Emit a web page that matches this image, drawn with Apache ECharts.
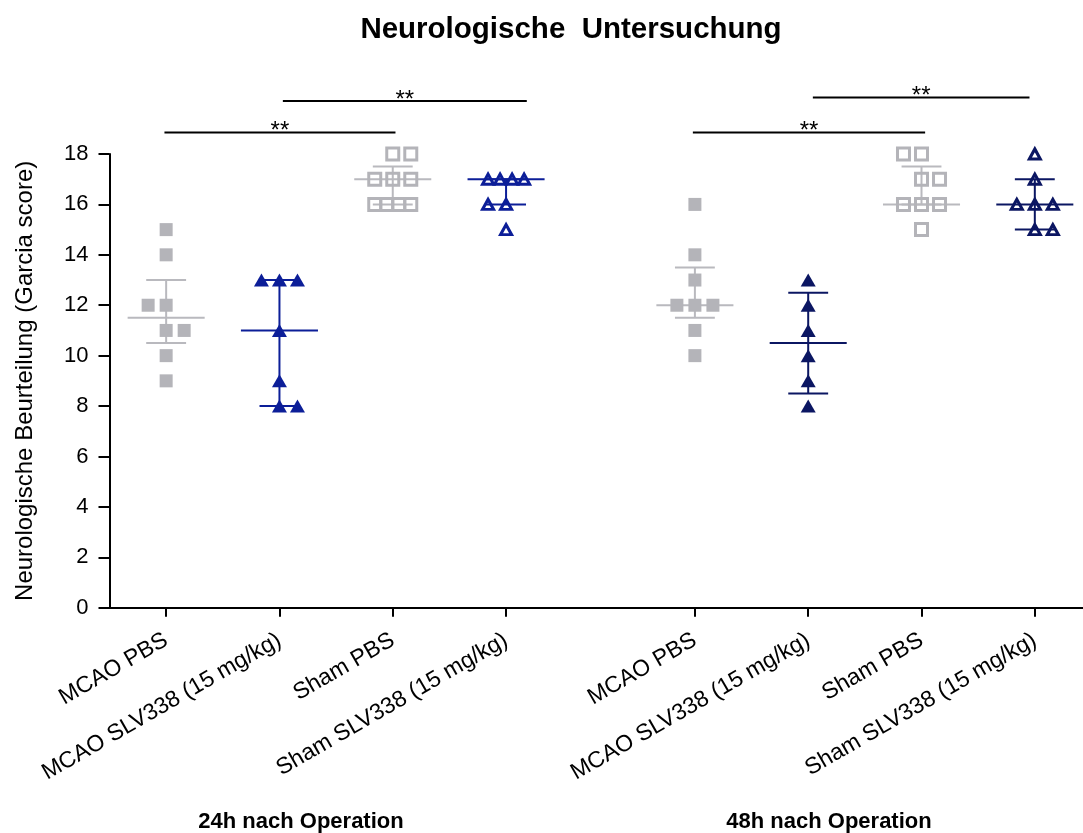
<!DOCTYPE html>
<html>
<head>
<meta charset="utf-8">
<script src="https://cdn.jsdelivr.net/npm/echarts@6/dist/echarts.min.js"></script>
<style>
html,body{margin:0;padding:0;background:#fff;}
#chart{width:1083px;height:833px;}
</style>
</head>
<body>
<div id="chart"></div>
<script>
// ---------- data ----------
const categories = ['MCAO PBS', 'MCAO SLV338 (15 mg/kg)', 'Sham PBS', 'Sham SLV338 (15 mg/kg)',
                    'MCAO PBS', 'MCAO SLV338 (15 mg/kg)', 'Sham PBS', 'Sham SLV338 (15 mg/kg)'];
const timeLabels = ['24h nach Operation', '48h nach Operation'];
const yTicks = [0, 2, 4, 6, 8, 10, 12, 14, 16, 18];

const h24_mcaoPBS = [15, 14, 12, 12, 11, 11, 10, 9];
const h24_mcaoSLV = [13, 13, 13, 11, 9, 8, 8];
const h24_shamPBS = [18, 18, 17, 17, 17, 16, 16, 16, 16];
const h24_shamSLV = [17, 17, 17, 17, 16, 16, 15];
const h48_mcaoPBS = [16, 14, 13, 12, 12, 12, 11, 10];
const h48_mcaoSLV = [13, 12, 11, 10, 9, 8];
const h48_shamPBS = [18, 18, 17, 17, 16, 16, 16, 15];
const h48_shamSLV = [18, 17, 16, 16, 16, 15, 15];

const medians = [11.5, 11, 17, 17, 12, 10.5, 16, 16];
const lowerQ  = [10.5, 8, 16, 16, 11.5, 8.5, 16, 15];
const upperQ  = [13, 13, 17.5, 17, 13.5, 12.5, 17.5, 17];

const sigLabels = ['**', '**', '**', '**'];

// ---------- layout / style (not data) ----------
const groupsValues = [h24_mcaoPBS, h24_mcaoSLV, h24_shamPBS, h24_shamSLV,
                      h48_mcaoPBS, h48_mcaoSLV, h48_shamPBS, h48_shamSLV];
const posOf = i => i + (i >= 4 ? 2 / 3 : 0);
const JIT = 0.159;
const leftPairs = {0: [12], 3: [16], 6: [18]};

const GREY = '#b4b4b9', GREYL = '#b9b9be', BLUE24 = '#0c1e98', BLUE48 = '#0b1662';
const styles = [
  {symbol: 'rect', size: 13, fill: GREY, stroke: null, line: GREYL},
  {symbol: 'triangle', size: [15, 13], fill: BLUE24, stroke: null, line: BLUE24},
  {symbol: 'rect', size: 12, fill: 'rgba(0,0,0,0)', stroke: GREY, line: GREYL},
  {symbol: 'triangle', size: [11, 10], fill: 'rgba(0,0,0,0)', stroke: BLUE24, line: BLUE24},
  {symbol: 'rect', size: 13, fill: GREY, stroke: null, line: GREYL},
  {symbol: 'triangle', size: [15, 13], fill: BLUE48, stroke: null, line: BLUE48},
  {symbol: 'rect', size: 12, fill: 'rgba(0,0,0,0)', stroke: GREY, line: GREYL},
  {symbol: 'triangle', size: [11, 10], fill: 'rgba(0,0,0,0)', stroke: BLUE48, line: BLUE48}
];

// brackets: [fromX, toX, yLevel] in axis units (annotation placement)
const brackets = [
  [posOf(0) - 0.015, posOf(2) + 0.024, 18.85],
  [posOf(1) + 0.03, posOf(3) + 0.183, 20.1],
  [posOf(4) - 0.018, posOf(6) + 0.032, 18.85],
  [posOf(5) + 0.041, posOf(7) - 0.047, 20.24]
];

function jitter(vals, gi) {
  const counts = {}, seen = {};
  vals.forEach(v => counts[v] = (counts[v] || 0) + 1);
  return vals.map(v => {
    const n = counts[v], k = seen[v] = (seen[v] === undefined ? 0 : seen[v] + 1);
    let offs;
    if (n === 1) offs = [0];
    else if (n === 2) offs = (leftPairs[gi] || []).includes(v) ? [-1, 0] : [0, 1];
    else if (n === 3) offs = [-1, 0, 1];
    else offs = Array.from({length: n}, (_, j) => -1 + 2 * j / (n - 1));
    return [posOf(gi) + offs[k] * JIT, v];
  });
}

const FONT = "'Liberation Sans', Arial, sans-serif";
const series = [];

groupsValues.forEach((vals, gi) => {
  const st = styles[gi];
  series.push({
    type: 'custom',
    z: 2,
    clip: false,
    data: [[posOf(gi), medians[gi], lowerQ[gi], upperQ[gi]]],
    encode: {x: 0, y: [1, 2, 3]},
    renderItem: function (params, api) {
      const x = api.value(0), m = api.value(1), lo = api.value(2), hi = api.value(3);
      const st2 = {stroke: st.line, lineWidth: 2};
      const seg = (a, b) => ({type: 'line', shape: {x1: a[0], y1: a[1], x2: b[0], y2: b[1]}, style: st2});
      return {type: 'group', children: [
        seg(api.coord([x - 0.34, m]), api.coord([x + 0.34, m])),
        seg(api.coord([x, lo]), api.coord([x, hi])),
        seg(api.coord([x - 0.176, lo]), api.coord([x + 0.176, lo])),
        seg(api.coord([x - 0.176, hi]), api.coord([x + 0.176, hi]))
      ]};
    }
  });
  series.push({
    type: 'scatter',
    z: 3,
    symbol: st.symbol,
    symbolSize: st.size,
    itemStyle: st.stroke
      ? {color: st.fill, borderColor: st.stroke, borderWidth: 3, opacity: 1}
      : {color: st.fill, opacity: 1},
    data: jitter(vals, gi)
  });
});

series.push({
  type: 'custom',
  z: 4,
  clip: false,
  data: brackets.map((b, i) => [b[0], b[1], b[2], i]),
  encode: {x: [0, 1], y: 2},
  renderItem: function (params, api) {
    const x1 = api.value(0), x2 = api.value(1), y = api.value(2), i = api.value(3);
    const p1 = api.coord([x1, y]), p2 = api.coord([x2, y]);
    return {type: 'group', children: [
      {type: 'line', shape: {x1: p1[0], y1: p1[1], x2: p2[0], y2: p2[1]}, style: {stroke: '#000', lineWidth: 2}},
      {type: 'text', style: {text: sigLabels[i], x: (p1[0] + p2[0]) / 2, y: p1[1] - 1,
        align: 'center', verticalAlign: 'middle', font: '24px ' + FONT, fill: '#000'}}
    ]};
  }
});

const tickVals = categories.map((c, i) => posOf(i));
const chart = echarts.init(document.getElementById('chart'));
chart.setOption({
  animation: false,
  backgroundColor: '#fff',
  title: {
    text: 'Neurologische  Untersuchung',
    left: 566, top: 10, textAlign: 'center',
    textStyle: {fontFamily: FONT, fontWeight: 'bold', fontSize: 29.5, color: '#000'}
  },
  grid: {left: 109.5, right: 0, top: 154, bottom: 225.3, containLabel: false},
  xAxis: {
    type: 'value',
    min: -0.5, max: 8.092,
    splitLine: {show: false},
    axisLine: {onZero: false, lineStyle: {color: '#000', width: 2}},
    axisTick: {show: true, length: 9, lineStyle: {color: '#000', width: 2}, customValues: tickVals},
    axisLabel: {
      customValues: tickVals,
      rotate: 30, margin: 31,
      fontFamily: FONT, fontSize: 23, color: '#000',
      formatter: v => {
        const i = tickVals.findIndex(t => Math.abs(t - v) < 1e-6);
        return i >= 0 ? categories[i] : '';
      }
    }
  },
  yAxis: {
    type: 'value',
    min: yTicks[0], max: yTicks[yTicks.length - 1], interval: 2,
    name: 'Neurologische Beurteilung (Garcia score)',
    nameLocation: 'middle', nameGap: 72, nameRotate: 90,
    nameTextStyle: {fontFamily: FONT, fontSize: 24, color: '#000'},
    splitLine: {show: false},
    axisLine: {show: true, onZero: false, lineStyle: {color: '#000', width: 2}},
    axisTick: {show: true, length: 11, lineStyle: {color: '#000', width: 2}},
    axisLabel: {margin: 21, fontFamily: FONT, fontSize: 22, color: '#000'}
  },
  graphic: [
    {type: 'text', x: 301, y: 822, style: {text: timeLabels[0], font: 'bold 22px ' + FONT, fill: '#000', align: 'center', verticalAlign: 'middle'}},
    {type: 'text', x: 829, y: 822, style: {text: timeLabels[1], font: 'bold 22px ' + FONT, fill: '#000', align: 'center', verticalAlign: 'middle'}}
  ],
  series: series
});
</script>
</body>
</html>
